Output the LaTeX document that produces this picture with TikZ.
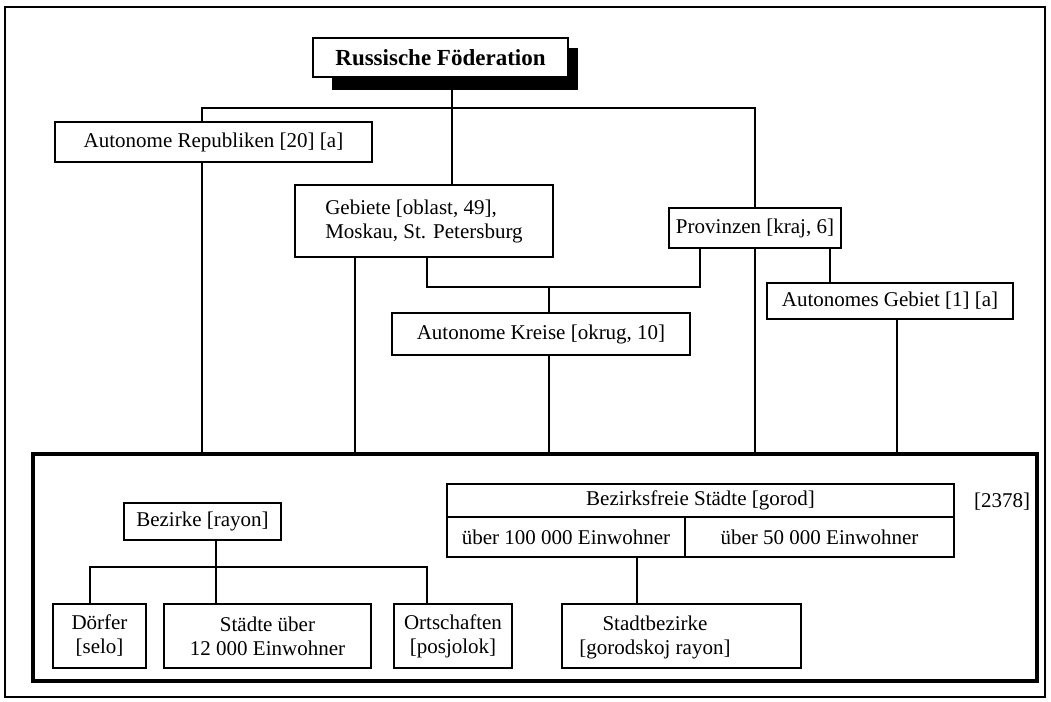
\documentclass[tikz,border=0pt]{standalone}
\usepackage{fontspec}
\setmainfont{Liberation Serif}
\newcommand\boxfont{\fontsize{21}{24}\selectfont}
\newcommand\titlefont{\fontsize{23}{26}\selectfont\bfseries}
\begin{document}
\begin{tikzpicture}[x=1pt,y=-1pt,
  box/.style={draw, line width=1.3pt, fill=white, inner sep=0pt, font=\boxfont, align=center},
  conn/.style={line width=1.3pt},
  frame/.style={draw, line width=1.3pt, inner sep=0pt}
]
\useasboundingbox (0,0) rectangle (1051,701);
% outer frame
\node[frame, minimum width=1040, minimum height=690] (outer) at (525,352) {};
% title with shadow
\fill (332,48) rectangle (578,90);
\node[box, minimum width=255, minimum height=39, font=\titlefont] (rf) at (440.5,57.5) {Russische Föderation};
% first level
\node[box, minimum width=317, minimum height=40] (ar) at (213.5,142) {Autonome Republiken [20] [a]};
\node[box, minimum width=258, minimum height=72, align=left] (geb) at (424,221) {Gebiete [oblast, 49],\\Moskau, St. Petersburg};
\node[box, minimum width=172, minimum height=40] (prov) at (755,228) {Provinzen [kraj, 6]};
\node[box, minimum width=298, minimum height=42] (kr) at (541,334) {Autonome Kreise [okrug, 10]};
\node[box, minimum width=246, minimum height=36] (ag) at (890,301) {Autonomes Gebiet [1] [a]};
% big box
\node[draw, line width=4pt, minimum width=1004, minimum height=227, inner sep=0pt] (big) at (535,567.5) {};
% table
\node[box, minimum width=507, minimum height=33] (bfs) at (700.5,500.5) {Bezirksfreie Städte [gorod]};
\node[box, minimum width=238, minimum height=40] (c1) at (566,537) {über 100 000 Einwohner};
\node[box, minimum width=269, minimum height=40] (c2) at (819.5,537) {über 50 000 Einwohner};
\node[font=\boxfont, inner sep=0pt] (num) at (1002,502) {[2378]};
% Bezirke
\node[box, minimum width=157, minimum height=37] (bz) at (202.5,521.5) {Bezirke [rayon]};
\node[box, minimum width=93, minimum height=64] (df) at (99.5,636) {Dörfer\\{}[selo]};
\node[box, minimum width=207, minimum height=64] (st) at (267.5,636) {Städte über\\12~000 Einwohner};
\node[box, minimum width=118, minimum height=64] (os) at (453,636) {Ortschaften\\{}[posjolok]};
\node[box, minimum width=239, minimum height=64] (sb) at (681.5,636) {};
\node[font=\boxfont, align=center, inner sep=0pt] (sbt) at (655,637) {Stadtbezirke\\{}[gorodskoj rayon]};
% connectors upper
\coordinate (trunk) at (452,90);
\coordinate (hl) at (202,108);
\coordinate (hr) at (755,108);
\draw[conn] (trunk) -- (trunk |- geb.north);
\draw[conn] (ar.north -| hl) -- (hl) -- (hr) -- (prov.north -| hr);
\draw[conn] (ar.south -| hl) -- (big.north -| hl);
\coordinate (g1) at (355,0);
\draw[conn] (geb.south -| g1) -- (big.north -| g1);
\coordinate (jl) at (427,287);
\coordinate (jr) at (700,287);
\coordinate (jk) at (549,287);
\draw[conn] (geb.south -| jl) -- (jl) -- (jr) -- (prov.south -| jr);
\draw[conn] (jk) -- (kr.north -| jk);
\draw[conn] (kr.south -| jk) -- (big.north -| jk);
\draw[conn] (prov.south -| hr) -- (big.north -| hr);
\coordinate (pa) at (830,0);
\draw[conn] (prov.south -| pa) -- (ag.north -| pa);
\coordinate (ab) at (897,0);
\draw[conn] (ag.south -| ab) -- (big.north -| ab);
% connectors lower
\coordinate (bv) at (216,567);
\coordinate (bl) at (90,567);
\coordinate (br) at (427,567);
\draw[conn] (bz.south -| bv) -- (st.north -| bv);
\draw[conn] (df.north -| bl) -- (bl) -- (br) -- (os.north -| br);
\coordinate (tv) at (637,0);
\draw[conn] (c1.south -| tv) -- (sb.north -| tv);
\end{tikzpicture}
\end{document}
